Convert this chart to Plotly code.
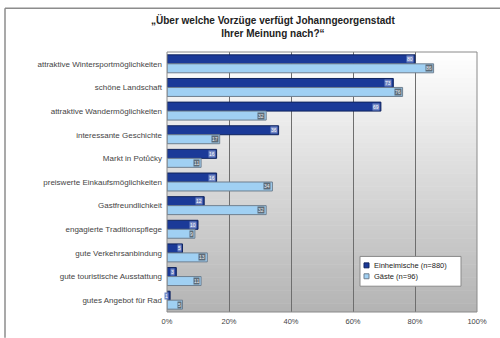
import plotly.graph_objects as go

categories = [
    "attraktive Wintersportmöglichkeiten",
    "schöne Landschaft",
    "attraktive Wandermöglichkeiten",
    "interessante Geschichte",
    "Markt in Potůčky",
    "preiswerte Einkaufsmöglichkeiten",
    "Gastfreundlichkeit",
    "engagierte Traditionspflege",
    "gute Verkehrsanbindung",
    "gute touristische Ausstattung",
    "gutes Angebot für Rad",
]
einheimische = [80, 73, 69, 36, 16, 16, 12, 10, 5, 3, 1]
gaeste = [86, 76, 32, 17, 11, 34, 32, 9, 13, 11, 5]
series_names = ["Einheimische (n=880)", "Gäste (n=96)"]
x_ticks = [0, 20, 40, 60, 80, 100]
x_tick_labels = ["0%", "20%", "40%", "60%", "80%", "100%"]
title_lines = ["\u201eÜber welche Vorzüge verfügt Johanngeorgenstadt",
               "Ihrer Meinung nach?\u201c"]

W, H = 500, 338
L, R, T, B = 167, 23, 52, 24
pw, ph = W - L - R, H - T - B

DARK = "#1b3a98"
DARK_EDGE = "#10245e"
LIGHT = "#a0d0f3"
LIGHT_EDGE = "#6f7f8f"
BARGAP = 0.24
FONT = "Liberation Sans"


def px_x(x):
    """pixel column -> paper x"""
    return (x - L) / pw


def px_y(y):
    """pixel row -> paper y"""
    return (H - B - y) / ph


fig = go.Figure()
fig.add_trace(go.Bar(
    y=categories, x=einheimische, orientation="h", name=series_names[0],
    marker=dict(color=DARK, line=dict(color=DARK_EDGE, width=1)),
))
fig.add_trace(go.Bar(
    y=categories, x=gaeste, orientation="h", name=series_names[1],
    marker=dict(color=LIGHT, line=dict(color=LIGHT_EDGE, width=1)),
))

# value labels in small boxes at the bar ends
half = (1 - BARGAP) / 4
annotations = []
for i, (a, b) in enumerate(zip(einheimische, gaeste)):
    annotations.append(dict(
        x=a, y=i - half, xref="x", yref="y", text=str(a), showarrow=False,
        xanchor="right", yanchor="middle", xshift=-1,
        font=dict(size=5, color="#ffffff", family=FONT),
        bgcolor="#7388c4", borderpad=0,
    ))
    annotations.append(dict(
        x=b, y=i + half, xref="x", yref="y", text=str(b), showarrow=False,
        xanchor="right", yanchor="middle", xshift=-1,
        font=dict(size=5, color="#e8eef4", family=FONT),
        bgcolor="#5e6b77", borderpad=0,
    ))

# two-line title above the plot
annotations.append(dict(
    x=px_x(273), y=px_y(26), xref="paper", yref="paper",
    text="<b>" + title_lines[0] + "<br>" + title_lines[1] + "</b>",
    showarrow=False, xanchor="center", yanchor="middle",
    font=dict(size=10, color="#222222", family=FONT),
))

# vertical white-to-grey gradient behind the plot area
shapes = []
n_bands = 60
top_rgb = (255, 255, 255)
bot_rgb = (180, 180, 180)
for k in range(n_bands):
    f = k / (n_bands - 1)
    c = tuple(round(top_rgb[j] + (bot_rgb[j] - top_rgb[j]) * f) for j in range(3))
    y1 = 1 - k / n_bands
    y0 = 1 - (k + 1) / n_bands
    shapes.append(dict(
        type="rect", xref="paper", yref="paper",
        x0=0, x1=1, y0=max(0, y0 - 0.002), y1=y1,
        fillcolor="rgb(%d,%d,%d)" % c, line=dict(width=0), layer="below",
    ))
shapes.append(dict(
    type="rect", xref="paper", yref="paper", x0=0, x1=1, y0=0, y1=1,
    line=dict(color="#8a8a8a", width=1), fillcolor="rgba(0,0,0,0)", layer="above",
))

# outer chart frame (top and left edges)
shapes.append(dict(type="line", xref="paper", yref="paper",
                   x0=px_x(5), x1=px_x(W + 5), y0=px_y(8), y1=px_y(8),
                   line=dict(color="#8c8c8c", width=1.5)))
shapes.append(dict(type="line", xref="paper", yref="paper",
                   x0=px_x(5), x1=px_x(5), y0=px_y(8), y1=px_y(H + 2),
                   line=dict(color="#8c8c8c", width=1.5)))

# legend box drawn by hand so the entries can sit close together
lx0, lx1, ly0, ly1 = 360, 461, 258, 288
shapes.append(dict(type="rect", xref="paper", yref="paper",
                   x0=px_x(lx0), x1=px_x(lx1), y0=px_y(ly1), y1=px_y(ly0),
                   fillcolor="white", line=dict(color="#8a8a8a", width=1),
                   layer="above"))
legend_styles = [(DARK, DARK_EDGE), (LIGHT, LIGHT_EDGE)]
for j, (name, (fc, ec)) in enumerate(zip(series_names, legend_styles)):
    cy = ly0 + 9 + j * 11
    shapes.append(dict(type="rect", xref="paper", yref="paper",
                       x0=px_x(364), x1=px_x(369), y0=px_y(cy + 2.5), y1=px_y(cy - 2.5),
                       fillcolor=fc, line=dict(color=ec, width=1), layer="above"))
    annotations.append(dict(
        x=px_x(372), y=px_y(cy), xref="paper", yref="paper", text=name,
        showarrow=False, xanchor="left", yanchor="middle",
        font=dict(size=7.5, color="#222222", family=FONT),
    ))

fig.update_layout(
    width=W, height=H,
    margin=dict(l=L, r=R, t=T, b=B, pad=0),
    paper_bgcolor="white",
    plot_bgcolor="rgba(0,0,0,0)",
    barmode="group", bargap=BARGAP, bargroupgap=0,
    showlegend=False,
    font=dict(family=FONT, color="#333333"),
    annotations=annotations,
    shapes=shapes,
)
fig.update_xaxes(
    range=[0, 100], tickvals=x_ticks, ticktext=x_tick_labels,
    showgrid=True, gridcolor="#6e6e6e", gridwidth=1,
    zeroline=False, showline=False, ticks="",
    tickfont=dict(size=7.5, color="#444444"), ticklabelstandoff=3,
)
fig.update_yaxes(
    autorange="reversed", showgrid=False, zeroline=False, ticks="",
    tickfont=dict(size=8, color="#444444"), ticklabelstandoff=4,
)

fig.write_html("out.html")
